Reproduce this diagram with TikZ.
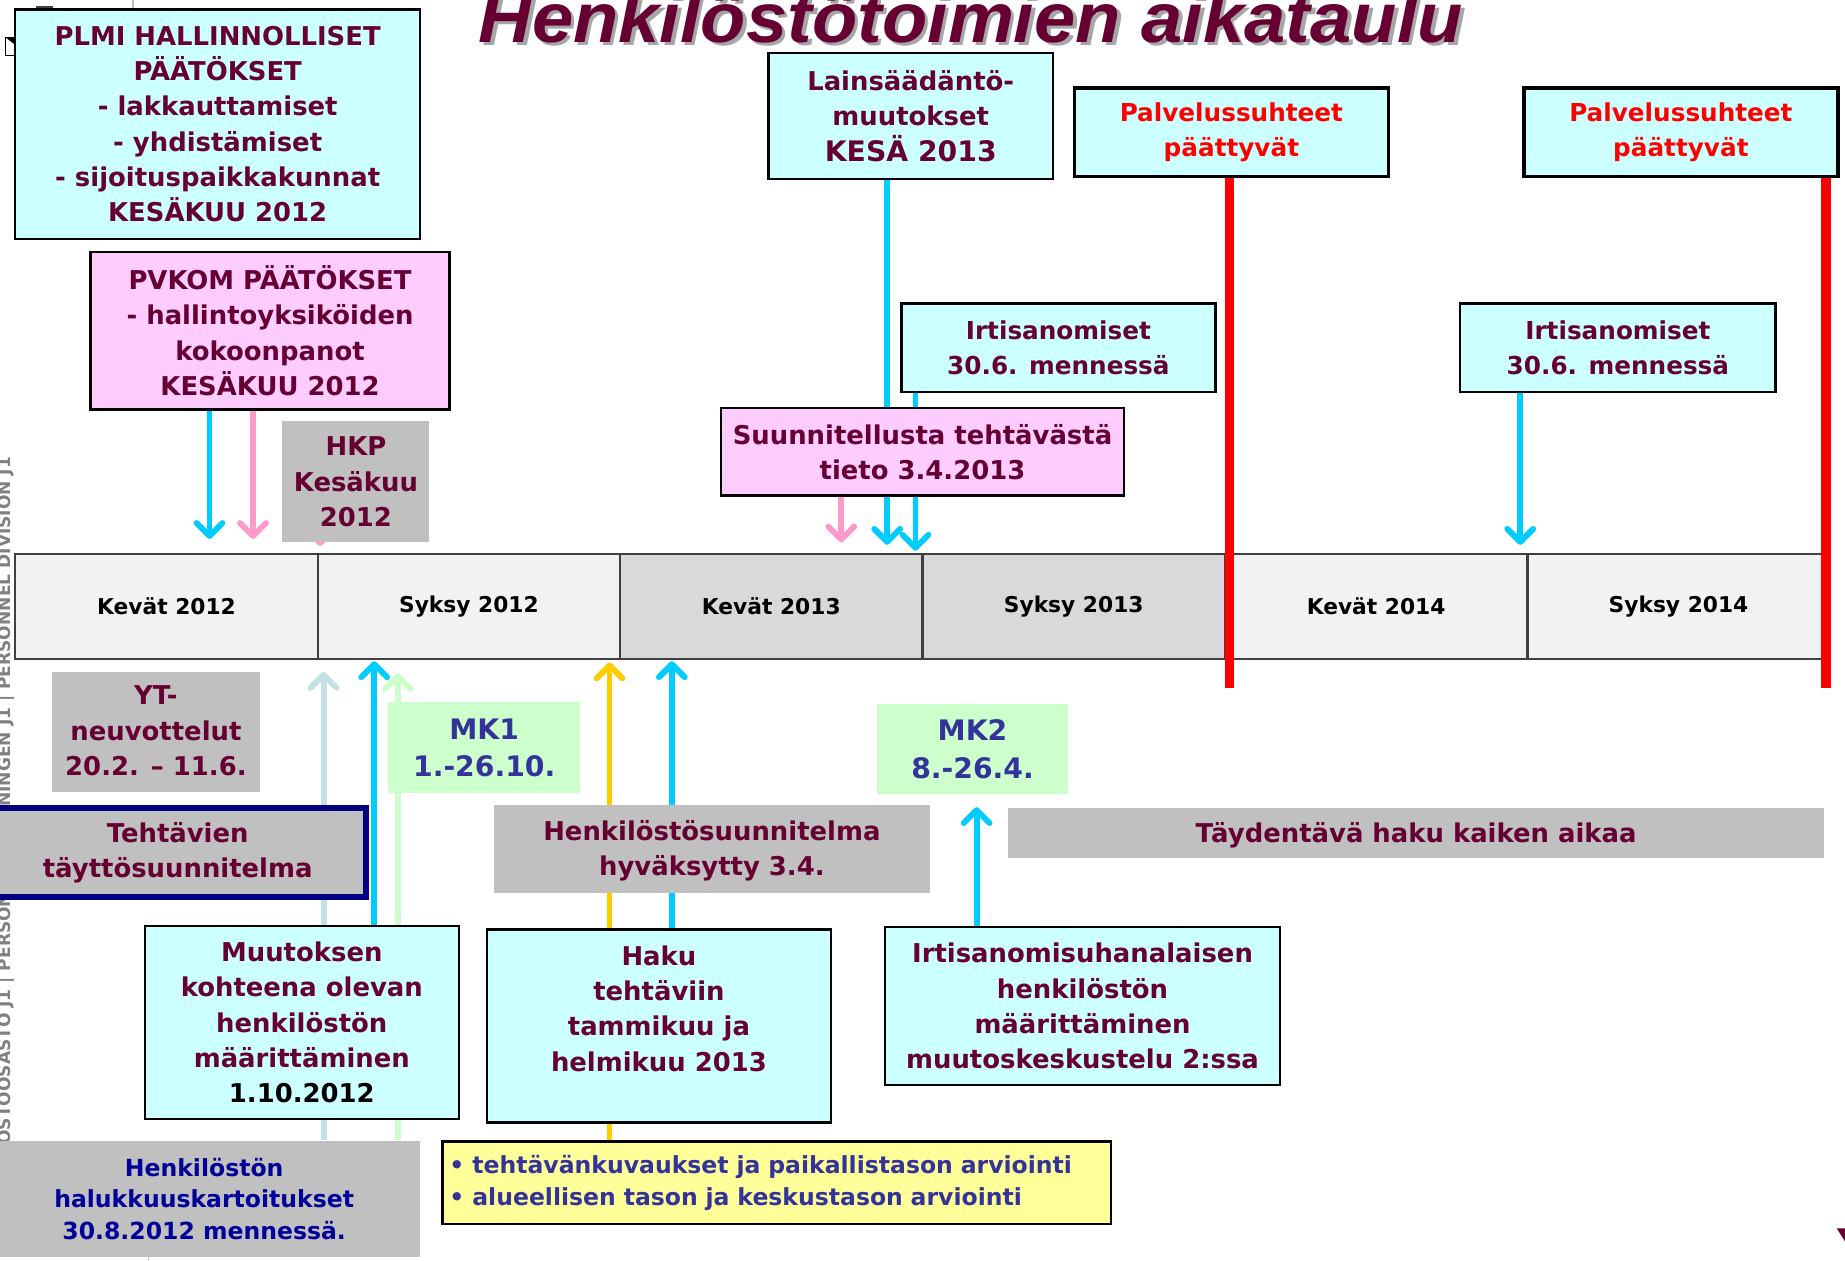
\documentclass[tikz,border=0pt]{standalone}
\usepackage{fontspec}
\usepackage{graphicx}
\setmainfont{DejaVu Sans}
\newfontfamily\titlefont{Liberation Sans}
\usetikzlibrary{arrows.meta}
\definecolor{tmaroon}{HTML}{660033}
\definecolor{tblue}{HTML}{333399}
\definecolor{tnavy}{HTML}{000099}
\definecolor{bnavy}{HTML}{000080}
\definecolor{boxcyan}{HTML}{CCFFFF}
\definecolor{boxpink}{HTML}{FFCCFF}
\definecolor{boxgray}{HTML}{C0C0C0}
\definecolor{boxgreen}{HTML}{CCFFCC}
\definecolor{boxyellow}{HTML}{FFFF99}
\definecolor{seasonlight}{HTML}{F2F2F2}
\definecolor{seasondark}{HTML}{D9D9D9}
\definecolor{seasonline}{HTML}{404040}
\definecolor{arrcyan}{HTML}{00CCFF}
\definecolor{arrpink}{HTML}{FF99CC}
\definecolor{arrgold}{HTML}{FFCC00}
\definecolor{arrmint}{HTML}{CCFFCC}
\definecolor{arrpale}{HTML}{C4E0E4}
\definecolor{shadowgray}{HTML}{A6A6A6}
\pgfdeclarelayer{back}
\pgfsetlayers{back,main}
\begin{document}
\begin{tikzpicture}[x=1pt,y=-1pt,
  >={Straight Barb[length=11pt,width=22pt,round]},
  box/.style={draw=black,line width=2,inner sep=0,align=center,text=tmaroon,
    font=\bfseries\fontsize{22}{30}\selectfont},
  cbox/.style={box,fill=boxcyan},
  pbox/.style={box,fill=boxpink},
  gbox/.style={box,draw=none,fill=boxgray},
  mkbox/.style={box,draw=none,fill=boxgreen,text=tblue,
    font=\bfseries\fontsize{24}{32}\selectfont},
  season/.style={draw=seasonline,line width=2,inner sep=0,minimum width=257,
    minimum height=89,font=\bfseries\fontsize{18.5}{22}\selectfont},
  arr/.style={->,line width=5},
  redline/.style={draw=red,line width=8}]
\useasboundingbox (0,0) rectangle (1568,1071);
\begin{pgfonlayer}{back}
\fill[white] (0,0) rectangle (1568,1071);
\end{pgfonlayer}
\node[rotate=90,anchor=base east,text=gray,inner sep=0,
  font=\bfseries\fontsize{14.5}{16}\selectfont] (side) at (9,388)
  {HENKILÖSTÖOSASTO J1 | PERSONALAVDELNINGEN J1 | PERSONNEL DIVISION J1};
\draw[black,fill=white,line width=0.8] (5,32) rectangle (13,47);
\fill[black] (5,32) -- (14,32) -- (14,39) -- cycle;
\fill[darkgray] (31,5) rectangle (45,7);
\draw[boxgray,line width=1] (113,0) -- (113,7) (126,1068) -- (126,1071);
\fill[tmaroon] (1561,1044) -- (1568,1044) -- (1568,1055) -- cycle;
\node[anchor=base,text=shadowgray,inner sep=0,
  font=\titlefont\bfseries\itshape\fontsize{60}{66}\selectfont] (titleshadow) at (828,39)
  {\scalebox{1.05}[1]{Henkilöstötoimien aikataulu}};
\node[anchor=base,text=tmaroon,inner sep=0,
  font=\titlefont\bfseries\itshape\fontsize{60}{66}\selectfont] (title) at (825,36)
  {\scalebox{1.05}[1]{Henkilöstötoimien aikataulu}};
\node[cbox,minimum width=344,minimum height=195] (plmi) at (185,105.5)
  {PLMI HALLINNOLLISET\\PÄÄTÖKSET\\- lakkauttamiset\\- yhdistämiset\\- sijoituspaikkakunnat\\KESÄKUU 2012};
\node[pbox,minimum width=305,minimum height=134] (pvkom) at (229.5,281)
  {PVKOM PÄÄTÖKSET\\- hallintoyksiköiden\\kokoonpanot\\KESÄKUU 2012};
\node[gbox,minimum width=125,minimum height=103] (hkp) at (302.5,409.5)
  {HKP\\Kesäkuu\\2012};
\node[cbox,minimum width=242,minimum height=107] (laki) at (774,98.5)
  {Lainsäädäntö-\\muutokset\\{\fontsize{24}{30}\selectfont KESÄ 2013}};
\node[cbox,line width=3,text=red,minimum width=267,minimum height=75,
  font=\bfseries\fontsize{21}{30}\selectfont] (pal1) at (1046.5,112.5)
  {Palvelussuhteet\\päättyvät};
\node[cbox,line width=3,text=red,minimum width=267,minimum height=75,
  font=\bfseries\fontsize{21}{30}\selectfont] (pal2) at (1428.5,112.5)
  {Palvelussuhteet\\päättyvät};
\node[cbox,minimum width=267,minimum height=75,
  font=\bfseries\fontsize{21}{30}\selectfont] (irt1) at (899.5,295.5)
  {Irtisanomiset\\30.6. mennessä};
\node[cbox,minimum width=268,minimum height=75,
  font=\bfseries\fontsize{21}{30}\selectfont] (irt2) at (1375,295.5)
  {Irtisanomiset\\30.6. mennessä};
\node[pbox,minimum width=342,minimum height=74] (suun) at (784,384)
  {Suunnitellusta tehtävästä\\tieto 3.4.2013};
\foreach \lbl/\col [count=\i] in {Kevät 2012/seasonlight,Syksy 2012/seasonlight,
    Kevät 2013/seasondark,Syksy 2013/seasondark,Kevät 2014/seasonlight,Syksy 2014/seasonlight}
  \node[season,fill=\col] (seas\i) at ({141.5+257*(\i-1)},515.5) {\lbl};
\coordinate (r1) at (1045,585);
\coordinate (r2) at (1552,585);
\draw[redline] (pal1.south -| r1) -- (r1);
\draw[redline] (pal2.south -| r2) -- (r2);
\node[gbox,minimum width=177,minimum height=102] (yt) at (132.5,622)
  {YT-\\neuvottelut\\20.2. – 11.6.\rule[-2pt]{0pt}{2pt}};
\node[mkbox,minimum width=163,minimum height=77] (mk1) at (411.5,635.5) {MK1\\1.-26.10.};
\node[mkbox,minimum width=163,minimum height=77] (mk2) at (826.5,636.5) {MK2\\8.-26.4.};
\node[gbox,draw=bnavy,line width=5,minimum width=320,minimum height=76] (tayt) at (151,724.5)
  {Tehtävien\\täyttösuunnitelma};
\node[gbox,minimum width=370,minimum height=75] (hsuun) at (605,721.5)
  {\rule{0pt}{20pt}Henkilöstösuunnitelma\\hyväksytty 3.4.};
\node[gbox,minimum width=693,minimum height=42] (tayd) at (1203.5,708)
  {\rule{0pt}{20pt}Täydentävä haku kaiken aikaa};
\node[cbox,minimum width=267,minimum height=164] (muut) at (256.5,869)
  {Muutoksen\\kohteena olevan\\henkilöstön\\määrittäminen\\\textcolor{black}{1.10.2012}};
\node[cbox,minimum width=292,minimum height=164] (haku) at (560,872)
  {Haku\\tehtäviin\\tammikuu ja\\helmikuu 2013\\\mbox{}};
\node[cbox,minimum width=336,minimum height=134] (uhan) at (920,855)
  {Irtisanomisuhanalaisen\\henkilöstön\\määrittäminen\\muutoskeskustelu 2:ssa};
\node[gbox,text=tnavy,minimum width=367,minimum height=98,
  font=\bfseries\fontsize{20}{27}\selectfont] (halu) at (173.5,1019)
  {Henkilöstön\\halukkuuskartoitukset\\30.8.2012 mennessä.};
\node[box,fill=boxyellow,text=tblue,align=left,text width=556,inner xsep=6,
  minimum height=70,font=\bfseries\fontsize{20}{27}\selectfont] (arvio) at (660,1005)
  {• tehtävänkuvaukset ja paikallistason arviointi\\• alueellisen tason ja keskustason arviointi};
\begin{pgfonlayer}{back}
\coordinate (a1) at (178,458);
\coordinate (a2) at (215,458);
\coordinate (a3) at (272,464);
\coordinate (a4) at (754,463);
\coordinate (a5) at (778,468);
\coordinate (a6) at (715,461);
\coordinate (a7) at (1292,463);
\coordinate (b1) at (275,571);
\coordinate (b2) at (318,562);
\coordinate (b3) at (338,572);
\coordinate (b4) at (518,563);
\coordinate (b5) at (571,562);
\coordinate (b6) at (830,686);
\draw[arr,arrcyan] (pvkom.south -| a1) -- (a1);
\draw[arr,arrpink] (pvkom.south -| a2) -- (a2);
\draw[arr,arrpink] (hkp.center -| a3) -- (a3);
\draw[arr,arrcyan] (laki.south -| a4) -- (a4);
\draw[arr,arrcyan] (irt1.south -| a5) -- (a5);
\draw[arr,arrpink] (suun.south -| a6) -- (a6);
\draw[arr,arrcyan] (irt2.south -| a7) -- (a7);
\draw[arr,arrpale] (halu.north -| b1) -- (b1);
\draw[arr,arrcyan] (muut.north -| b2) -- (b2);
\draw[arr,arrmint] (halu.north -| b3) -- (b3);
\draw[arr,arrgold] ([yshift=-5]arvio.north -| b4) -- (b4);
\draw[arr,arrcyan] (haku.north -| b5) -- (b5);
\draw[arr,arrcyan] (uhan.north -| b6) -- (b6);
\end{pgfonlayer}
\end{tikzpicture}
\end{document}
